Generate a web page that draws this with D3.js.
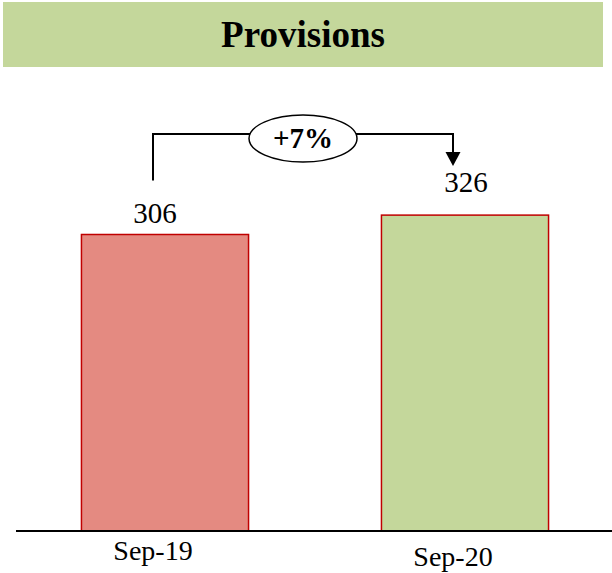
<!DOCTYPE html>
<html>
<head>
<meta charset="utf-8">
<script src="https://cdn.jsdelivr.net/npm/d3@7"></script>
<style>
  body { margin: 0; background: #fff; }
  svg { display: block; font-family: "Liberation Serif", "Times New Roman", serif; }
</style>
</head>
<body>
<div id="chart"></div>
<script>
// Données
const categories = ["Sep-19", "Sep-20"];
const values = [306, 326];
const barColors = ["#e48a81", "#c4d79b"];
const title = "Provisions";

const W = 612, H = 573;

const svg = d3.select("#chart").append("svg")
  .attr("width", W)
  .attr("height", H);

// Bandeau titre
svg.append("rect")
  .attr("x", 3).attr("y", 2)
  .attr("width", 600).attr("height", 65)
  .attr("fill", "#c4d79b");

svg.append("text")
  .attr("x", 303).attr("y", 47)
  .attr("text-anchor", "middle")
  .attr("font-size", 37)
  .attr("font-weight", "bold")
  .text(title);

// Échelles
const x = d3.scaleBand()
  .domain(categories)
  .range([15, 615])
  .paddingInner(0.443)
  .paddingOuter(0.2215);

const y = d3.scaleLinear()
  .domain([0, 548])
  .range([531, 0]);

// Barres
svg.selectAll(".bar")
  .data(values)
  .join("rect")
  .attr("class", "bar")
  .attr("x", (d, i) => x(categories[i]))
  .attr("y", d => y(d))
  .attr("width", x.bandwidth())
  .attr("height", d => y(0) - y(d))
  .attr("fill", (d, i) => barColors[i])
  .attr("stroke", "#c00000")
  .attr("stroke-width", 1.5);

// Étiquettes de valeur
const labelDx = [-10, 1];
const labelDy = [-11, -23];
svg.selectAll(".val")
  .data(values)
  .join("text")
  .attr("class", "val")
  .attr("x", (d, i) => x(categories[i]) + x.bandwidth() / 2 + labelDx[i])
  .attr("y", (d, i) => y(d) + labelDy[i])
  .attr("text-anchor", "middle")
  .attr("font-size", 29)
  .text(d => d);

// Axe
const axis = svg.append("g")
  .attr("transform", `translate(0,${y(0)})`)
  .call(d3.axisBottom(x).tickSize(0).tickPadding(0));
axis.select(".domain").remove();
axis.append("line")
  .attr("x1", 16).attr("x2", W)
  .attr("stroke", "#000").attr("stroke-width", 2);
axis.selectAll(".tick text")
  .attr("font-family", "Liberation Serif, serif")
  .attr("font-size", 28)
  .attr("fill", "#000")
  .attr("dx", -12)
  .attr("dy", (d, i) => i === 0 ? 11 : 17)
  .attr("y", 18);

// Flèche de variation
const x0 = x(categories[0]) + x.bandwidth() / 2 - 12;
const x1 = x(categories[1]) + x.bandwidth() / 2 - 12;
const yTop = 134;
const midX = (x0 + x1) / 2;

svg.append("path")
  .attr("d", `M${x0},${y(values[0]) - 54}V${yTop}H${x1}V${y(values[1]) - 63}`)
  .attr("fill", "none")
  .attr("stroke", "#000")
  .attr("stroke-width", 2);

const tipY = y(values[1]) - 49;
svg.append("path")
  .attr("d", `M${x1 - 7.5},${tipY - 14}L${x1 + 7.5},${tipY - 14}L${x1},${tipY}Z`)
  .attr("fill", "#000");

svg.append("ellipse")
  .attr("cx", midX).attr("cy", 138.5)
  .attr("rx", 54).attr("ry", 23.5)
  .attr("fill", "#fff")
  .attr("stroke", "#000")
  .attr("stroke-width", 1.5);

const pct = Math.round((values[1] / values[0] - 1) * 100);
svg.append("text")
  .attr("x", midX).attr("y", 148)
  .attr("text-anchor", "middle")
  .attr("font-size", 29)
  .attr("font-weight", "bold")
  .text(`+${pct}%`);
</script>
</body>
</html>
